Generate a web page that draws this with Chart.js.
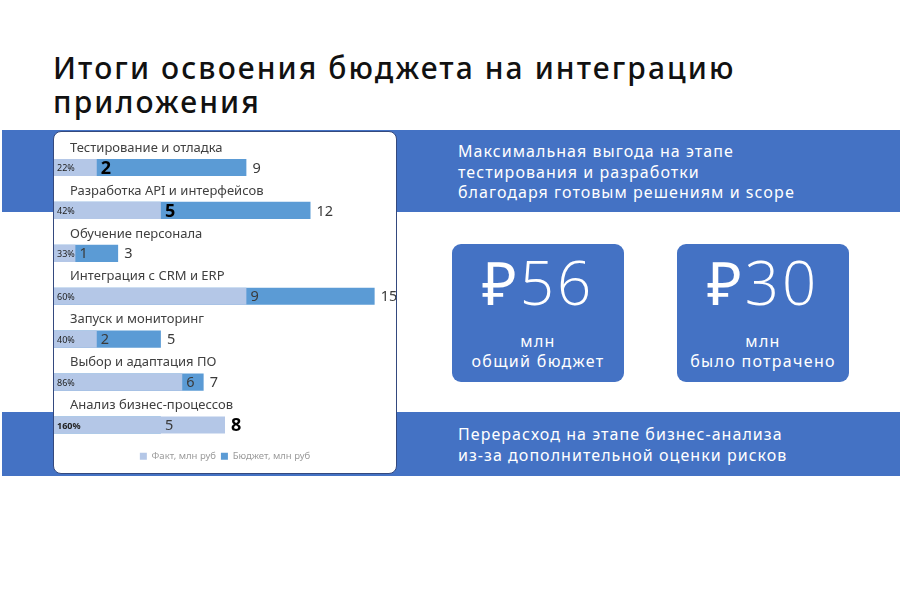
<!DOCTYPE html>
<html lang="ru">
<head>
<meta charset="utf-8">
<title>Итоги освоения бюджета</title>
<script src="https://cdn.jsdelivr.net/npm/chart.js@4.4.1/dist/chart.umd.min.js"></script>
<style>
  html, body { margin: 0; padding: 0; background: #fff; }
  body { width: 900px; height: 600px; position: relative; overflow: hidden; font-family: "Noto Sans", sans-serif; }
  .title { position: absolute; left: 53px; top: 51px; font-size: 30px; line-height: 34px; font-weight: 500; color: #111; letter-spacing: 2.1px; }
  .band { position: absolute; left: 2px; right: 0; background: #4472c4; }
  .band.top { top: 130px; height: 82px; }
  .band.bottom { top: 412px; height: 64px; }
  .note { position: absolute; left: 458px; color: #fff; font-size: 16px; line-height: 20.5px; letter-spacing: 1.05px; }
  .box { position: absolute; top: 244px; width: 172px; height: 138px; background: #4472c4; border-radius: 9px; color: #fff; text-align: center; }
  .box .big { position: absolute; left: 0; right: 0; top: 8px; font-family: "Open Sans", sans-serif; font-weight: 300; font-size: 60px; line-height: 60px; letter-spacing: 3px; }
  .box .sub { position: absolute; left: 0; right: 0; top: 87px; font-size: 16px; line-height: 20px; letter-spacing: 1.3px; }
  .panel { position: absolute; left: 53px; top: 131px; width: 342px; height: 341px; background: #fff; border: 1.5px solid #34497e; border-radius: 8px; }
</style>
</head>
<body>
<div class="title">Итоги освоения бюджета на интеграцию<br>приложения</div>
<div class="band top"></div>
<div class="band bottom"></div>
<div class="note" style="top:141px">Максимальная выгода на этапе<br>тестирования и разработки<br>благодаря готовым решениям и scope</div>
<div class="box" style="left:452px"><div class="big">₽56</div><div class="sub">млн<br>общий бюджет</div></div>
<div class="box" style="left:677px"><div class="big">₽30</div><div class="sub">млн<br>было потрачено</div></div>
<div class="note" style="top:424px">Перерасход на этапе бизнес-анализа<br>из-за дополнительной оценки рисков</div>
<div class="panel"><canvas id="budgetChart"></canvas></div>

<script>
// Stages of the integration project
const categories = [
    'Тестирование и отладка',
    'Разработка API и интерфейсов',
    'Обучение персонала',
    'Интеграция с CRM и ERP',
    'Запуск и мониторинг',
    'Выбор и адаптация ПО',
    'Анализ бизнес-процессов'
];
// Spent vs planned, mln rub
const factValues = [2, 5, 1, 9, 2, 6, 8];
const budgetValues = [9, 12, 3, 15, 5, 7, 5];
// Rows called out on the slide
const highlightRows = [0, 1, 6];

const factColor = '#b4c7e7';
const budgetColor = '#5b9bd5';

// Value labels drawn next to the bar ends
const barLabels = {
    id: 'barLabels',
    afterDatasetsDraw(chart) {
        const ctx = chart.ctx;
        const factMeta = chart.getDatasetMeta(0);
        const budgetMeta = chart.getDatasetMeta(1);
        ctx.save();
        ctx.textBaseline = 'middle';
        ctx.textAlign = 'left';
        factValues.forEach((fact, i) => {
            const budget = budgetValues[i];
            const fBar = factMeta.data[i];
            const bBar = budgetMeta.data[i];
            const y = fBar.y;
            const hot = highlightRows.includes(i);
            const factFont = hot ? 'bold 18px "Noto Sans"' : '14.5px "Noto Sans"';
            const plainFont = '14.5px "Noto Sans"';

            // percent of budget used
            const pct = Math.round(fact / budget * 100) + '%';
            ctx.font = (fact > budget ? 'bold ' : '') + '9px "Noto Sans"';
            ctx.fillStyle = '#222';
            ctx.fillText(pct, fBar.base + 3, y + 1);

            // smaller value at its bar end, larger value outside
            let inner, outer, innerFont, outerFont;
            if (fact <= budget) {
                inner = { v: fact, x: fBar.x }; outer = { v: budget, x: bBar.x };
                innerFont = factFont; outerFont = plainFont;
            } else {
                inner = { v: budget, x: bBar.x }; outer = { v: fact, x: fBar.x };
                innerFont = plainFont; outerFont = factFont;
            }
            ctx.font = innerFont;
            ctx.fillStyle = innerFont === plainFont ? '#3a3a3a' : '#000';
            ctx.fillText(String(inner.v), inner.x + 4, y + 1);
            ctx.font = outerFont;
            ctx.fillStyle = outerFont === plainFont ? '#3a3a3a' : '#000';
            ctx.fillText(String(outer.v), outer.x + 6, y + 1);
        });
        ctx.restore();
    }
};

const budgetCtx = document.getElementById('budgetChart').getContext('2d');
const budgetChart = new Chart(budgetCtx, {
    type: 'bar',
    data: {
        labels: categories,
        datasets: [{
            label: 'Факт, млн руб',
            data: factValues,
            backgroundColor: factColor,
            order: 0,
            grouped: false,
            barPercentage: 0.4,
            categoryPercentage: 1
        }, {
            label: 'Бюджет, млн руб',
            data: budgetValues,
            backgroundColor: budgetColor,
            order: 1,
            grouped: false,
            barPercentage: 0.4,
            categoryPercentage: 1
        }]
    },
    options: {
        indexAxis: 'y',
        responsive: true,
        maintainAspectRatio: false,
        animation: false,
        layout: {
            padding: { top: 14, left: 0, right: 0, bottom: 2 }
        },
        plugins: {
            legend: {
                position: 'bottom',
                labels: {
                    boxWidth: 7,
                    boxHeight: 7,
                    padding: 5,
                    color: '#9a9a9a',
                    font: { family: 'Noto Sans', size: 9.5 }
                }
            },
            tooltip: { enabled: false }
        },
        scales: {
            x: {
                min: 0,
                max: 16,
                display: false
            },
            y: {
                grid: { display: false },
                border: { display: false },
                ticks: {
                    mirror: true,
                    padding: 16,
                    labelOffset: -19.5,
                    color: '#404040',
                    font: { family: 'Noto Sans', size: 13 }
                },
                afterFit: function (scale) {
                    // labels sit inside the plot, so the axis takes no room
                    scale.width = 0;
                    scale.paddingTop = 0;
                    scale.paddingBottom = 0;
                }
            }
        }
    },
    plugins: [barLabels]
});
</script>
</body>
</html>
